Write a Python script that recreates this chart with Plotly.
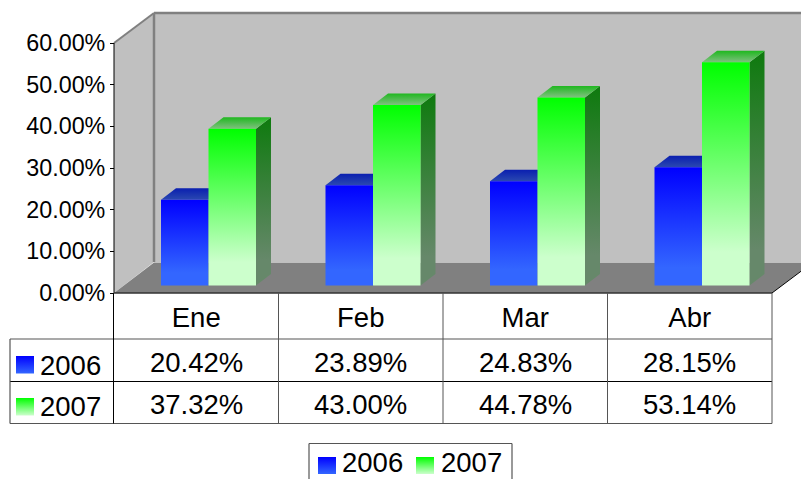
import plotly.graph_objects as go

months = ["Ene", "Feb", "Mar", "Abr"]
series_names = ["2006", "2007"]
values_2006 = [20.42, 23.89, 24.83, 28.15]
values_2007 = [37.32, 43.00, 44.78, 53.14]
y_ticks = [0, 10, 20, 30, 40, 50, 60]

W, H = 801, 479
X0, X1, Y0, Y60 = 114, 772, 293, 43
PX_PER_CAT = (X1 - X0) / 4
PX_PER_UNIT = (Y0 - Y60) / 60
BAR_PX_PER_UNIT = 4.2


def dx(px):
    return (px - X0) / PX_PER_CAT


def dy(py):
    return (Y0 - py) / PX_PER_UNIT


def poly(xs, ys, grad, hold=0.15):
    return go.Scatter(x=[dx(a) for a in xs], y=[dy(b) for b in ys], mode="lines", fill="toself",
                      line=dict(width=0), hoverinfo="skip", showlegend=False, fillcolor=grad[0],
                      fillgradient=dict(type="vertical",
                                        colorscale=[[0, grad[1]], [hold, grad[1]], [1, grad[0]]]))


fig = go.Figure()

BASE = 285.5
BAR_W = 47.5
DEP_X, DEP_Y = 15, 11.5
styles = [
    dict(front=("#0000ff", "#3366ff"), side=("#0a0a9a", "#26418f"), top=("#0a1fb0", "#2a48b0")),
    dict(front=("#00ff00", "#ccffcc"), side=("#0e7a0e", "#66886a"), top=("#1fb81f", "#80c080")),
]
for i in range(4):
    for s, vals in enumerate([values_2006, values_2007]):
        st = styles[s]
        left = 161 + i * PX_PER_CAT + s * BAR_W
        right = left + BAR_W
        top_y = BASE - vals[i] * BAR_PX_PER_UNIT
        fig.add_trace(poly([right, right + DEP_X, right + DEP_X, right, right],
                           [top_y, top_y - DEP_Y, BASE - DEP_Y, BASE, top_y], st["side"]))
        fig.add_trace(poly([left, left + DEP_X, right + DEP_X, right, left],
                           [top_y, top_y - DEP_Y, top_y - DEP_Y, top_y, top_y], st["top"], hold=0))
        fig.add_trace(poly([left, right, right, left, left],
                           [top_y, top_y, BASE, BASE, top_y], st["front"]))

swatch_grads = [styles[0]["front"], styles[1]["front"]]
for s, (x, y) in enumerate([(16, 356), (16, 398)]):
    fig.add_trace(poly([x, x + 18, x + 18, x, x], [y, y, y + 17.5, y + 17.5, y], swatch_grads[s], hold=0))
for s, x in enumerate([318, 416]):
    y = 457
    fig.add_trace(poly([x, x + 18, x + 18, x, x], [y, y, y + 17, y + 17, y], swatch_grads[s], hold=0))


def path(pts):
    return "M" + " L".join(f"{a / W},{1 - b / H}" for a, b in pts) + " Z"


def P(**k):
    return dict(xref="paper", yref="paper", **k)


shapes = [
    P(type="path", path=path([(114, 43), (154, 13), (154, 262), (114, 293)]), fillcolor="#c0c0c0", line_width=0, layer="below"),
    P(type="path", path=path([(154, 13), (812, 13), (812, 262), (154, 262)]), fillcolor="#c0c0c0", line_width=0, layer="below"),
    P(type="path", path=path([(114, 293), (154, 262.5), (812, 262.5), (772, 293)]), fillcolor="#808080", line_width=0, layer="below"),
]


def seg(x0, y0, x1, y1, color="#000000", width=1, layer="above"):
    return P(type="line", x0=x0 / W, y0=1 - y0 / H, x1=x1 / W, y1=1 - y1 / H,
             line=dict(color=color, width=width), layer=layer)


shapes += [
    seg(114, 43, 154, 13, "#808080", 2, "below"),
    seg(154, 13, 812, 13, "#808080", 2.5, "below"),
    seg(154, 13, 154, 262, "#808080", 2.5, "below"),
    seg(772, 293, 812, 263),
    seg(114, 43, 114, 293),
    seg(114, 293, 772, 293, "#333333", 1.5),
    seg(10, 339, 772, 339, "#555555", 1.2),
    seg(10, 381.5, 772, 381.5),
    seg(10, 423.5, 772, 423.5, "#555555", 1.2),
    seg(10, 339, 10, 423.5, "#555555", 1.2),
    seg(113.5, 293, 113.5, 423.5),
]
for i in range(1, 5):
    x = X0 + i * PX_PER_CAT
    shapes.append(seg(x, 293, x, 423.5, "#555555", 1))
shapes += [
    seg(309, 443.5, 512, 443.5, "#555555", 1.2),
    seg(309, 443.5, 309, 482, "#555555", 1.2),
    seg(512, 443.5, 512, 482, "#555555", 1.2),
]

FONT = "Liberation Sans, Arial, sans-serif"
annotations = []


def label(text, x, y, size=27.5, anchor="center"):
    annotations.append(P(text=text, x=x / W, y=1 - y / H, showarrow=False,
                         xanchor=anchor, yanchor="middle",
                         font=dict(family=FONT, size=size, color="#000000")))


for s, (name, vals) in enumerate(zip(series_names, [values_2006, values_2007])):
    row_y = 362.5 + s * 41.5
    label(name, 38, row_y + 2.5, anchor="left")
    for i, v in enumerate(vals):
        label(f"{v:.2f}%", X0 + (i + 0.5) * PX_PER_CAT, row_y)
label(series_names[0], 340, 462.5, anchor="left")
label(series_names[1], 439, 462.5, anchor="left")

fig.update_layout(
    width=W, height=H, autosize=False, showlegend=False,
    margin=dict(l=0, r=0, t=0, b=0, pad=0, autoexpand=False),
    paper_bgcolor="#ffffff", plot_bgcolor="rgba(0,0,0,0)",
    xaxis=dict(domain=[0, 1], range=[dx(0), dx(W)], anchor="free", position=(H - Y0) / H,
               showgrid=False, zeroline=False, showline=False,
               tickmode="array", tickvals=[i + 0.5 for i in range(4)], ticktext=months, ticks="",
               tickfont=dict(family=FONT, size=27.5, color="#000000"), ticklabelstandoff=5),
    yaxis=dict(domain=[0, 1], range=[dy(H), dy(0)], anchor="free", position=X0 / W,
               showgrid=False, zeroline=False, showline=False,
               tickmode="array", tickvals=y_ticks, ticktext=[f"{v:.2f}%" for v in y_ticks],
               ticks="outside", ticklen=4, tickwidth=1, tickcolor="#000000",
               tickfont=dict(family=FONT, size=23.3, color="#000000")),
    shapes=shapes, annotations=annotations,
)
fig.write_html("out.html", config=dict(displayModeBar=False),
               post_script="document.body.style.margin='0';document.body.style.overflow='hidden';")
